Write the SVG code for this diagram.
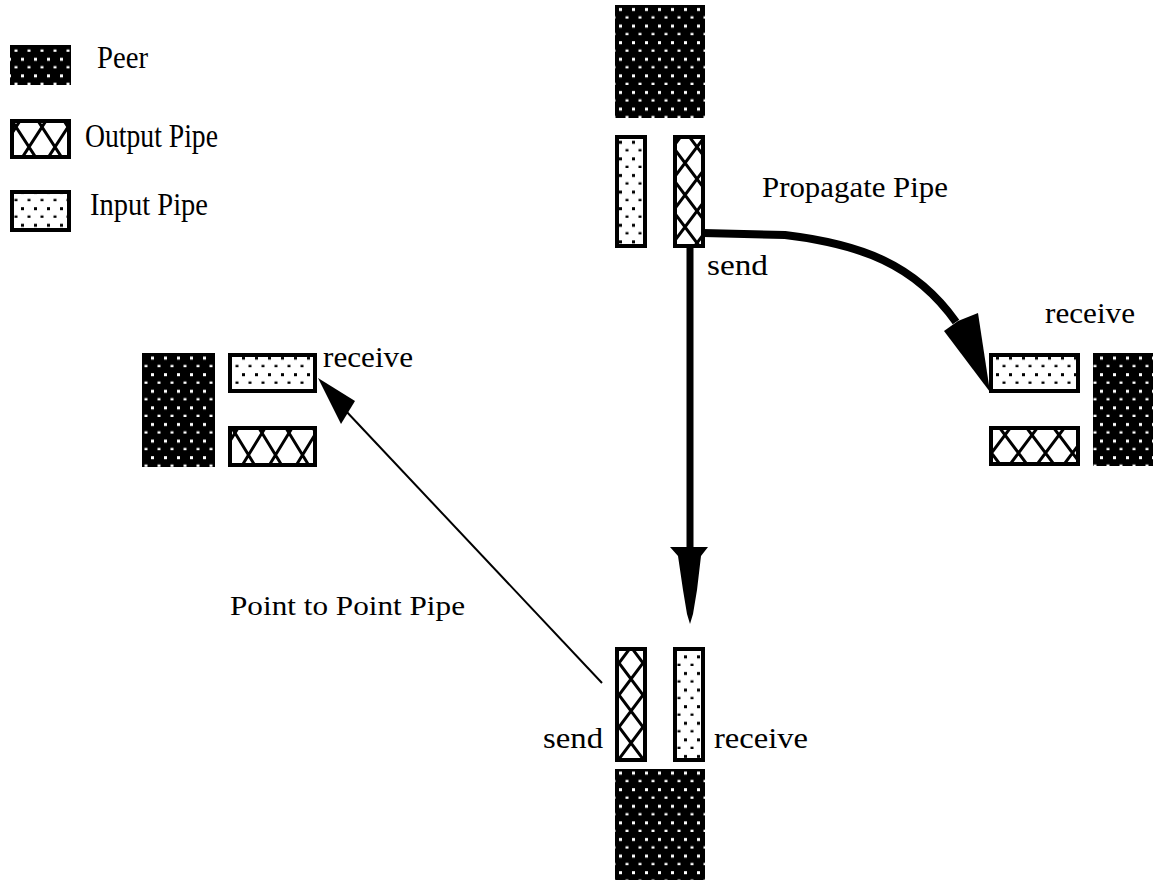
<svg xmlns="http://www.w3.org/2000/svg" width="1153" height="880" viewBox="0 0 1153 880">
<style>
.t{font-family:"Liberation Serif","DejaVu Serif",serif;fill:#000}
.peer{fill:#000}
.pipe{fill:#fff;stroke:#000;stroke-width:4}
.x{fill:none;stroke:#000;stroke-width:3}
</style>
<defs>
<pattern id="wdots" patternUnits="userSpaceOnUse" x="2" y="2" width="13" height="16.6">
<rect x="6" y="6" width="3" height="3" fill="#fff"/><rect x="12.5" y="14.3" width="3" height="3" fill="#fff"/><rect x="-0.5" y="14.3" width="3" height="3" fill="#fff"/>
</pattern>
<pattern id="bdots" patternUnits="userSpaceOnUse" x="2" y="2" width="13" height="16.6">
<rect x="6" y="6" width="3" height="3" fill="#000"/><rect x="12.5" y="14.3" width="3" height="3" fill="#000"/><rect x="-0.5" y="14.3" width="3" height="3" fill="#000"/>
</pattern>
<pattern id="xLeg" patternUnits="userSpaceOnUse" x="16" y="127" width="26" height="40"><path class="x" d="M0,0L26,40M26,0L0,40"/></pattern>
<pattern id="xL" patternUnits="userSpaceOnUse" x="235" y="433" width="27" height="44"><path class="x" d="M0,0L27,44M27,0L0,44"/></pattern>
<pattern id="xR" patternUnits="userSpaceOnUse" x="1005" y="435" width="27" height="36"><path class="x" d="M0,0L27,36M27,0L0,36"/></pattern>
<pattern id="xT" patternUnits="userSpaceOnUse" x="673" y="147" width="24" height="32"><path class="x" d="M0,0L24,32M24,0L0,32"/></pattern>
<pattern id="xB" patternUnits="userSpaceOnUse" x="619" y="663" width="24" height="32"><path class="x" d="M0,0L24,32M24,0L0,32"/></pattern>
</defs>
<rect width="1153" height="880" fill="#fff"/>

<g id="legend">
<g id="legend-peer"><rect class="peer" x="10" y="45" width="61" height="40"/><rect x="10" y="45" width="61" height="40" fill="url(#wdots)"/></g>
<text class="t" x="97" y="68" font-size="32" textLength="51" lengthAdjust="spacingAndGlyphs">Peer</text>
<g id="legend-output"><rect class="pipe" x="12" y="121" width="57" height="36"/><rect x="14" y="123" width="53" height="32" fill="url(#xLeg)"/><rect x="12" y="121" width="57" height="36" fill="none" stroke="#000" stroke-width="4"/></g>
<text class="t" x="85" y="147" font-size="34" textLength="133" lengthAdjust="spacingAndGlyphs">Output Pipe</text>
<g id="legend-input"><rect class="pipe" x="12" y="192" width="57" height="38"/><rect x="14" y="194" width="53" height="34" fill="url(#bdots)"/></g>
<text class="t" x="90" y="215" font-size="32" textLength="118" lengthAdjust="spacingAndGlyphs">Input Pipe</text>
</g>

<g id="connectors">
<path d="M690,236 V555" fill="none" stroke="#000" stroke-width="7"/>
<polygon points="670,547 708,547 701,556 697,590 693,614 690,624 687,614 683,590 678,556" fill="#000"/>
<path d="M703,233 L785,235 C860,244 915,264 956,322" fill="none" stroke="#000" stroke-width="8"/>
<polygon points="944,331 958,321 978,313 990,392" fill="#000"/>
<path d="M602,683 L345,410" fill="none" stroke="#000" stroke-width="2"/>
<polygon points="318,378 355,401 341,424" fill="#000"/>
</g>

<g id="peer-top"><rect class="peer" x="615" y="5" width="90" height="113"/><rect x="615" y="5" width="90" height="113" fill="url(#wdots)"/></g>
<g id="input-top"><rect class="pipe" x="617" y="137" width="28" height="109"/><rect x="619" y="139" width="24" height="105" fill="url(#bdots)"/></g>
<g id="output-top"><rect class="pipe" x="675" y="137" width="28" height="109"/><rect x="677" y="139" width="24" height="105" fill="url(#xT)"/><rect x="675" y="137" width="28" height="109" fill="none" stroke="#000" stroke-width="4"/></g>

<g id="peer-left"><rect class="peer" x="142" y="353" width="73" height="114"/><rect x="142" y="353" width="73" height="114" fill="url(#wdots)"/></g>
<g id="input-left"><rect class="pipe" x="230" y="355" width="85" height="36"/><rect x="232" y="357" width="81" height="32" fill="url(#bdots)"/></g>
<g id="output-left"><rect class="pipe" x="230" y="428" width="85" height="37"/><rect x="232" y="430" width="81" height="33" fill="url(#xL)"/><rect x="230" y="428" width="85" height="37" fill="none" stroke="#000" stroke-width="4"/></g>

<g id="input-right"><rect class="pipe" x="991" y="355" width="87" height="36"/><rect x="993" y="357" width="83" height="32" fill="url(#bdots)"/></g>
<g id="output-right"><rect class="pipe" x="991" y="428" width="87" height="36"/><rect x="993" y="430" width="83" height="32" fill="url(#xR)"/><rect x="991" y="428" width="87" height="36" fill="none" stroke="#000" stroke-width="4"/></g>
<g id="peer-right"><rect class="peer" x="1093" y="353" width="60" height="113"/><rect x="1093" y="353" width="60" height="113" fill="url(#wdots)"/></g>

<g id="output-bottom"><rect class="pipe" x="617" y="649" width="28" height="111"/><rect x="619" y="651" width="24" height="107" fill="url(#xB)"/><rect x="617" y="649" width="28" height="111" fill="none" stroke="#000" stroke-width="4"/></g>
<g id="input-bottom"><rect class="pipe" x="675" y="649" width="28" height="111"/><rect x="677" y="651" width="24" height="107" fill="url(#bdots)"/></g>
<g id="peer-bottom"><rect class="peer" x="615" y="769" width="90" height="111"/><rect x="615" y="769" width="90" height="111" fill="url(#wdots)"/></g>

<g id="labels">
<text class="t" x="762" y="197" font-size="30" textLength="186" lengthAdjust="spacingAndGlyphs">Propagate Pipe</text>
<text class="t" x="707" y="275" font-size="30" textLength="61" lengthAdjust="spacingAndGlyphs">send</text>
<text class="t" x="323" y="367" font-size="30" textLength="90" lengthAdjust="spacingAndGlyphs">receive</text>
<text class="t" x="1045" y="323" font-size="30" textLength="90" lengthAdjust="spacingAndGlyphs">receive</text>
<text class="t" x="230" y="615" font-size="28" textLength="235" lengthAdjust="spacingAndGlyphs">Point to Point Pipe</text>
<text class="t" x="543" y="748" font-size="30" textLength="60" lengthAdjust="spacingAndGlyphs">send</text>
<text class="t" x="714" y="748" font-size="30" textLength="94" lengthAdjust="spacingAndGlyphs">receive</text>
</g>
</svg>
